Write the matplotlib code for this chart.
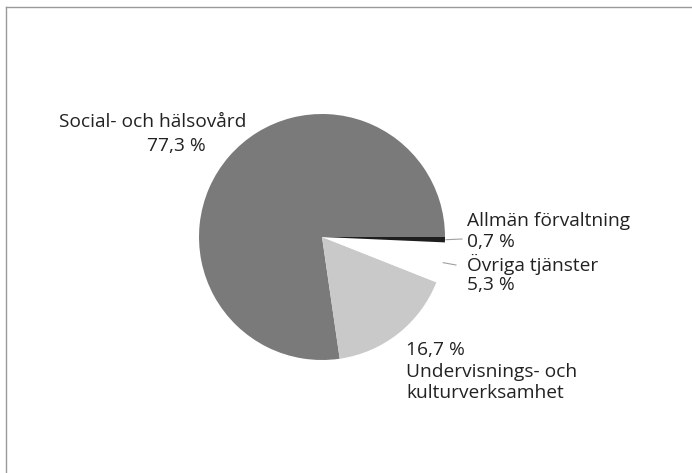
import numpy as np
import matplotlib.pyplot as plt
from matplotlib.lines import Line2D

categories = ['Social- och hälsovård', 'Undervisnings- och\nkulturverksamhet',
              'Övriga tjänster', 'Allmän förvaltning']
shares = [77.3, 16.7, 5.3, 0.7]
colors = ['#7a7a7a', '#c9c9c9', '#ffffff', '#1e1e1e']

W, H = 692, 473
fig = plt.figure(figsize=(W / 100, H / 100), dpi=100)
ax = fig.add_axes([0, 0, 1, 1])

cx, cy, r = 322, H - 237, 123
wedges, _ = ax.pie(shares, colors=colors, startangle=0, counterclock=True,
                   center=(cx, cy), radius=r, wedgeprops={'linewidth': 0})

ax.set_xlim(0, W)
ax.set_ylim(0, H)
ax.set_aspect('equal')
ax.axis('off')

font = dict(family=['Open Sans', 'DejaVu Sans'], fontsize=13.8, color='#222222')

def pct(v):
    return f'{v:.1f}'.replace('.', ',') + ' %'

# Social- och hälsovård
ax.text(153, H - 122, categories[0], ha='center', va='center', **font)
ax.text(176, H - 146, pct(shares[0]), ha='center', va='center', **font)

# Undervisnings- och kulturverksamhet
ax.text(406, H - 350, pct(shares[1]), ha='left', va='center', **font)
lines = categories[1].split('\n')
ax.text(406, H - 372, lines[0], ha='left', va='center', **font)
ax.text(406, H - 393, lines[1], ha='left', va='center', **font)

# Allmän förvaltning and Övriga tjänster
ax.text(467, H - 221, categories[3], ha='left', va='center', **font)
ax.text(467, H - 242, pct(shares[3]), ha='left', va='center', **font)
ax.text(467, H - 264, categories[2], ha='left', va='center', **font)
ax.text(467, H - 285, pct(shares[2]), ha='left', va='center', **font)

# leader lines from wedge middle to label
for w, end in [(wedges[3], (462, H - 239)), (wedges[2], (456, H - 265))]:
    mid = np.deg2rad((w.theta1 + w.theta2) / 2)
    x0 = cx + r * np.cos(mid)
    y0 = cy + r * np.sin(mid)
    ax.plot([x0 + 1, end[0]], [y0, end[1]], color='#a0a0a0', lw=0.8)

# frame
fig.add_artist(Line2D([6 / W, 6 / W], [0, 1 - 7 / H], color='#9a9a9a', lw=1))
fig.add_artist(Line2D([6 / W, 1], [1 - 7 / H, 1 - 7 / H], color='#9a9a9a', lw=1))

fig.savefig('out.png', dpi=100)
